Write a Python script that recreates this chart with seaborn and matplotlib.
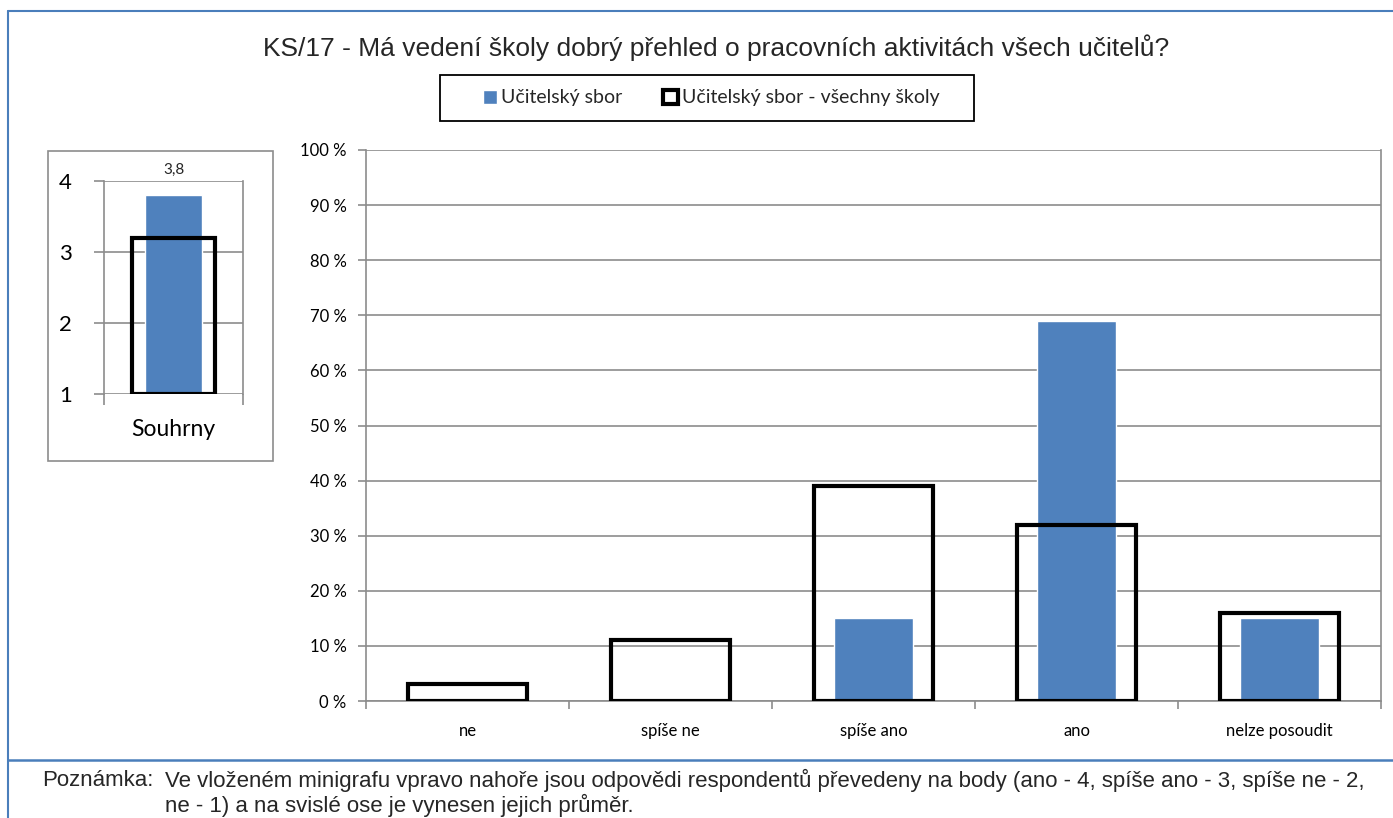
import matplotlib
matplotlib.use("Agg")
import matplotlib.pyplot as plt
import seaborn as sns
import pandas as pd
from matplotlib.patches import Rectangle
from matplotlib.lines import Line2D
from matplotlib.ticker import FixedLocator

# ---- data ----
categories = ["ne", "spíše ne", "spíše ano", "ano", "nelze posoudit"]
school_pct = [0, 0, 15, 69, 15]          # Učitelský sbor
all_schools_pct = [3, 11, 39, 32, 16]    # Učitelský sbor - všechny školy
summary_label = ["Souhrny"]
summary_school = [3.8]
summary_all = [3.2]
series_names = ["Učitelský sbor", "Učitelský sbor - všechny školy"]
y_ticks_main = [0, 10, 20, 30, 40, 50, 60, 70, 80, 90, 100]
y_ticks_mini = [1, 2, 3, 4]
title = "KS/17 - Má vedení školy dobrý přehled o pracovních aktivitách všech učitelů?"
note_head = "Poznámka:"
note_text = ("Ve vloženém minigrafu vpravo nahoře jsou odpovědi respondentů převedeny na body (ano - 4, spíše ano - 3, spíše ne - 2,\n"
             "ne - 1) a na svislé ose je vynesen jejich průměr.")

sns.set_theme(style="white")
plt.rcParams["font.family"] = ["Lato", "DejaVu Sans"]

BLUE = "#4F81BD"
GRID = "#8C8C8C"
BORDER = "#4A7EBB"
ARIAL = ["Liberation Sans", "DejaVu Sans"]

W, H = 1393, 818
fig = plt.figure(figsize=(W / 100, H / 100), dpi=100)

def fx(px):
    return px / W

def fy(py):
    return 1 - py / H

# ---- outer frame ----
fig.add_artist(Line2D([fx(8), fx(8)], [fy(11), 0], color=BORDER, lw=1.5))
fig.add_artist(Line2D([fx(8), 1], [fy(11), fy(11)], color=BORDER, lw=1.5))
fig.add_artist(Line2D([fx(8), 1], [fy(760), fy(760)], color=BORDER, lw=1.8))

# ---- main chart ----
df = pd.DataFrame({"cat": categories, "school": school_pct, "all": all_schools_pct})
ax = fig.add_axes([fx(366), fy(701), fx(1381) - fx(366), fy(150) - fy(701)])
sns.barplot(data=df, x="cat", y="school", color=BLUE, width=0.39, ax=ax,
            saturation=1, label=series_names[0], zorder=2)
sns.barplot(data=df, x="cat", y="all", width=0.59, ax=ax, fill=False,
            edgecolor="black", linewidth=3, label=series_names[1], zorder=3)
for p in ax.containers[1].patches:
    p.set_facecolor("none")
    p.set_edgecolor("black")
    p.set_linewidth(3)
    p.set_joinstyle("miter")
handles, labels = ax.get_legend_handles_labels()
if ax.get_legend() is not None:
    ax.get_legend().remove()

ax.set_ylim(0, 100)
ax.set_xlim(-0.5, len(categories) - 0.5)
ax.set_yticks(y_ticks_main)
ax.set_yticklabels([f"{v} %" for v in y_ticks_main])
ax.yaxis.grid(True, color=GRID, lw=1.2)
ax.set_axisbelow(True)
ax.set_xlabel("")
ax.set_ylabel("")
ax.xaxis.set_minor_locator(FixedLocator([i - 0.5 for i in range(len(categories) + 1)]))
ax.tick_params(axis="x", which="major", length=0, pad=16, labelsize=12, labelcolor="black")
ax.tick_params(axis="x", which="minor", length=6, width=1.2, color=GRID, bottom=True)
ax.tick_params(axis="y", length=6, width=1.2, color=GRID, left=True, pad=8,
               labelsize=12, labelcolor="black")
for s in ["left", "right", "bottom"]:
    ax.spines[s].set_color(GRID)
    ax.spines[s].set_linewidth(1.2)
ax.spines["top"].set_visible(False)

# ---- mini chart ----
fig.add_artist(Rectangle((fx(48), fy(461)), fx(273) - fx(48), fy(151) - fy(461),
                         fill=False, edgecolor="#8C8C8C", lw=1.2, transform=fig.transFigure))
mdf = pd.DataFrame({"cat": summary_label, "school": summary_school, "all": summary_all})
axm = fig.add_axes([fx(104), fy(394), fx(243) - fx(104), fy(181) - fy(394)])
sns.barplot(data=mdf, x="cat", y="school", color=BLUE, width=0.41, ax=axm,
            saturation=1, zorder=2)
axm.set_ylim(1, 4)
for p, v in zip(axm.containers[0].patches, summary_school):
    p.set_y(1)
    p.set_height(v - 1)
sns.barplot(data=mdf, x="cat", y="all", width=0.6, ax=axm, fill=False, zorder=3)
for p, v in zip(axm.containers[1].patches, summary_all):
    p.set_y(1)
    p.set_height(v - 1)
    p.set_facecolor("none")
    p.set_edgecolor("black")
    p.set_linewidth(3)
    p.set_joinstyle("miter")
axm.bar_label(axm.containers[0], labels=[f"{v:.1f}".replace(".", ",") for v in summary_school],
              padding=13, fontsize=11,
              bbox=dict(facecolor="white", edgecolor="none", pad=2))
axm.set_xlim(-0.5, 0.5)
axm.set_yticks(y_ticks_mini)
axm.set_yticklabels([str(v) for v in y_ticks_mini])
axm.yaxis.grid(True, color=GRID, lw=1.2)
axm.set_axisbelow(True)
axm.set_xlabel("")
axm.set_ylabel("")
axm.xaxis.set_minor_locator(FixedLocator([-0.5, 0.5]))
axm.tick_params(axis="x", which="major", length=0, pad=18, labelsize=16.5, labelcolor="black")
axm.tick_params(axis="x", which="minor", length=8, width=1.2, color=GRID, bottom=True)
axm.tick_params(axis="y", length=7, width=1.2, color=GRID, left=True, pad=16,
                labelsize=16, labelcolor="black")
for s in ["left", "right"]:
    axm.spines[s].set_color(GRID)
    axm.spines[s].set_linewidth(1.2)
axm.spines["top"].set_visible(False)
axm.spines["bottom"].set_visible(False)

# ---- title & legend ----
fig.text(fx(716), fy(48), title, ha="center", va="center", fontsize=19, family=ARIAL)
fig.add_artist(Rectangle((fx(440), fy(121)), fx(974) - fx(440), fy(74.5) - fy(121),
                         fill=False, edgecolor="black", lw=1.3, transform=fig.transFigure))
leg = fig.legend(handles, labels, loc="center", bbox_to_anchor=(fx(711), fy(98)),
                 ncol=2, frameon=False,
                 fontsize=14, handlelength=0.75, handleheight=0.75,
                 handletextpad=0.2, columnspacing=2.1, borderpad=0.3,
                 borderaxespad=0)
for lh in leg.legend_handles:
    if lh.get_facecolor()[3] == 0:
        lh.set_linewidth(3)

# ---- note ----
fig.text(fx(42), fy(781), note_head, ha="left", va="center", fontsize=16, family=ARIAL)
fig.text(fx(165), fy(769), note_text, ha="left", va="top", fontsize=16,
         linespacing=1.08, family=ARIAL)

fig.savefig("out.png", dpi=100)
